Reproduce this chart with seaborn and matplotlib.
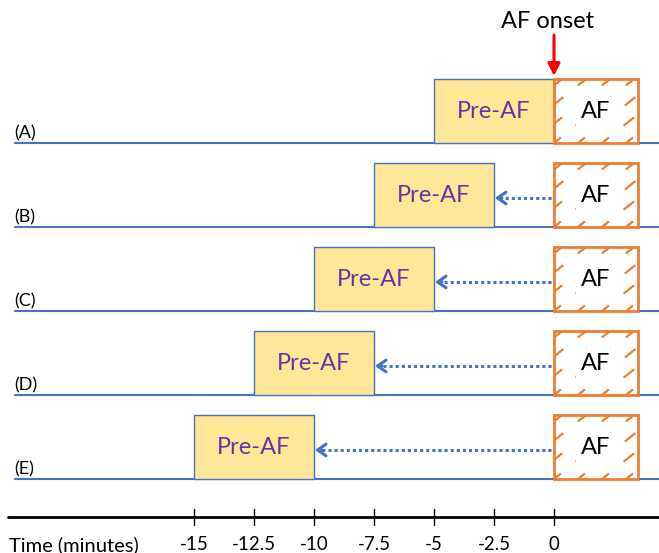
import matplotlib
matplotlib.use("Agg")
import matplotlib.pyplot as plt
import matplotlib.patches as mpatches
import numpy as np
import pandas as pd
import seaborn as sns

# data
rows = ["(A)", "(B)", "(C)", "(D)", "(E)"]
pre_af_start = [-5, -7.5, -10, -12.5, -15]
pre_af_end = [0, -2.5, -5, -7.5, -10]
af_start = [0, 0, 0, 0, 0]
af_end = [3.5, 3.5, 3.5, 3.5, 3.5]
ticks = [-15, -12.5, -10, -7.5, -5, -2.5, 0]
tick_labels = ["-15", "-12.5", "-10", "-7.5", "-5", "-2.5", "0"]

sns.set_theme(style="white")
plt.rcParams["font.family"] = ["Lato", "DejaVu Sans"]

BLUE = "#4472C4"
ORANGE = "#ED7D31"
YELLOW = "#FFE699"
PURPLE = "#7030A0"

W, H = 659, 553
px = 1 / 24.0  # minutes per pixel
x0 = -554 * px
x1 = (W - 554) * px

fig = plt.figure(figsize=(W / 100, H / 100), dpi=100)
ax = fig.add_axes([0, 0, 1, 1])
ax.set_xlim(x0, x1)
ax.set_ylim(H, 0)
ax.axis("off")

box_h = 64
base = [143 + 84 * i for i in range(len(rows))]

df = pd.DataFrame({"row": rows, "pre_s": pre_af_start, "pre_e": pre_af_end,
                   "af_s": af_start, "af_e": af_end, "y": base})

for i, r in df.iterrows():
    y = r["y"]
    # baseline
    sns.lineplot(x=[x0 + 15 * px, x1], y=[y, y], color=BLUE, lw=1.5, ax=ax)
    ax.text(x0 + 14 * px, y - 2, r["row"], fontsize=13, ha="left", va="bottom", color="black")
    # pre-AF box
    ax.add_patch(mpatches.Rectangle((r["pre_s"], y - box_h), r["pre_e"] - r["pre_s"], box_h,
                                    facecolor=YELLOW, edgecolor=BLUE, lw=1.0, zorder=3))
    ax.text((r["pre_s"] + r["pre_e"]) / 2, y - box_h / 2 + 1, "Pre-AF", fontsize=17,
            color=PURPLE, ha="center", va="center", zorder=4)
    # AF box with dashed diagonal hatch
    ax.add_patch(mpatches.Rectangle((r["af_s"], y - box_h), r["af_e"] - r["af_s"], box_h,
                                    facecolor="white", edgecolor="none", zorder=3))
    clip = mpatches.Rectangle((r["af_s"], y - box_h), r["af_e"] - r["af_s"], box_h,
                              facecolor="none", edgecolor="none")
    ax.add_patch(clip)
    for k in range(-5, 6):
        xs = r["af_s"] + k * 24 * px
        hl = ax.plot([xs, xs + 110 * px], [y, y - 88], color=ORANGE, lw=1.6,
                     linestyle=(2, (6, 8.5)), zorder=3.5)[0]
        hl.set_clip_path(clip)
    ax.add_patch(mpatches.Rectangle((r["af_s"], y - box_h), r["af_e"] - r["af_s"], box_h,
                                    facecolor="none", edgecolor=ORANGE, lw=2.0, zorder=3.6))
    ax.text((r["af_s"] + r["af_e"]) / 2, y - box_h / 2 + 1, "AF", fontsize=17,
            color="black", ha="center", va="center", zorder=5,
            bbox=dict(facecolor="white", edgecolor="none", pad=3.5))
    # shift arrow
    if r["pre_e"] < r["af_s"]:
        ya = y - box_h / 2 + 3
        ax.plot([r["af_s"] - 3 * px, r["pre_e"] + 6 * px], [ya, ya], color=BLUE, lw=2.2,
                linestyle=(0, (1, 1)), zorder=4)
        ax.annotate("", xy=(r["pre_e"] + 1 * px, ya), xytext=(r["pre_e"] + 8 * px, ya),
                    arrowprops=dict(arrowstyle="->,head_length=0.5,head_width=0.35",
                                    color=BLUE, lw=2.2, shrinkA=0, shrinkB=0), zorder=5)

# AF onset marker
ax.text(-6.5 * px, 21, "AF onset", fontsize=17, ha="center", va="center", color="black")
ax.annotate("", xy=(0, 76), xytext=(0, 35),
            arrowprops=dict(arrowstyle="-|>,head_length=0.6,head_width=0.3",
                            color="red", lw=2.2, shrinkA=0, shrinkB=0))

# time axis
ax.plot([x0 + 8 * px, x1], [517, 517], color="black", lw=2)
for t, lab in zip(ticks, tick_labels):
    ax.plot([t, t], [509, 525], color="black", lw=1)
    ax.text(t, 545, lab, fontsize=13.5, ha="center", va="center", color="black")
ax.text(x0 + 9 * px, 545, "Time (minutes)", fontsize=14.5, ha="left", va="center", color="black")

fig.savefig("out.png", dpi=100)
